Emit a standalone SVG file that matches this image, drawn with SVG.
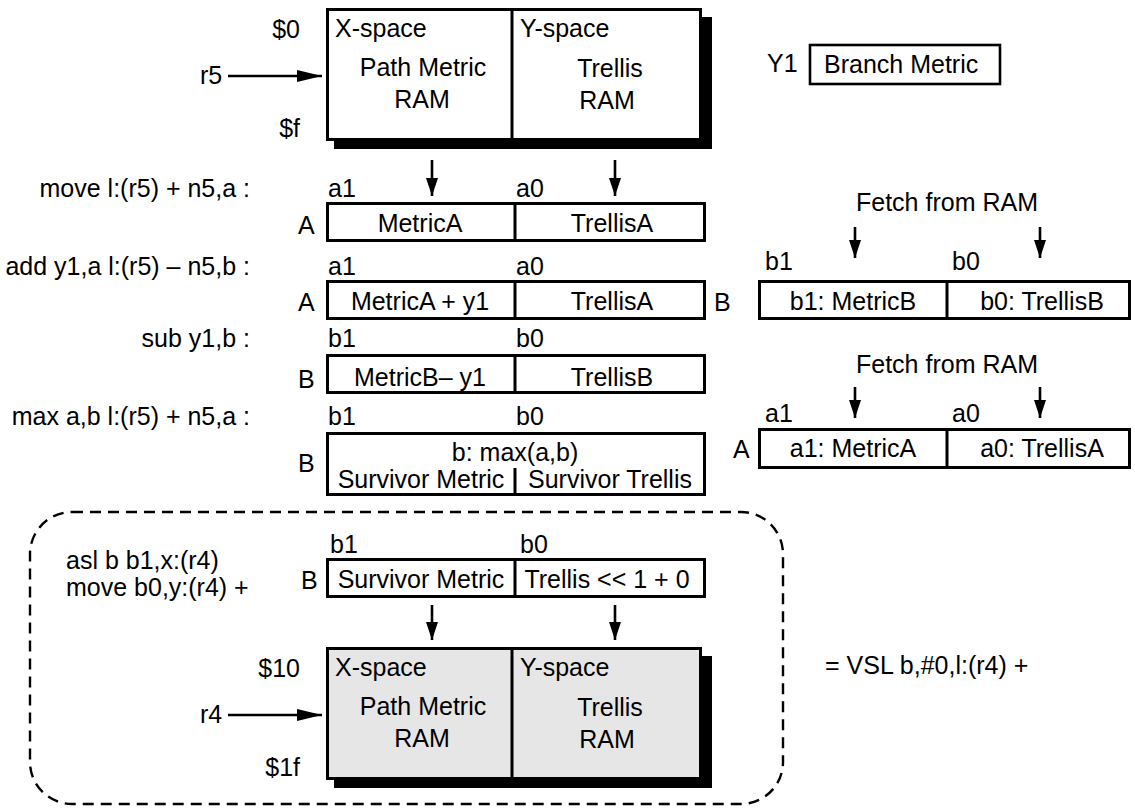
<svg xmlns="http://www.w3.org/2000/svg" width="1135" height="810" viewBox="0 0 1135 810">
<style>
text{font-family:"Liberation Sans",Arial,Helvetica,sans-serif;font-size:25px;fill:#000}
.m{text-anchor:middle}
.e{text-anchor:end}
.box{fill:#fff;stroke:#000;stroke-width:3}
.gbox{fill:#e6e6e6;stroke:#000;stroke-width:3}
.sh{fill:#000}
.ln{stroke:#000;stroke-width:3;fill:none}
.arr{stroke:#000;stroke-width:2.6;fill:none}
.dash{fill:none;stroke:#000;stroke-width:2.4;stroke-dasharray:11 7}
</style>
<defs>
<marker id="ah" markerWidth="25" markerHeight="12" refX="25" refY="6" orient="auto" markerUnits="userSpaceOnUse"><path d="M0,0 L25,6 L0,12 Z" fill="#000"/></marker>
<marker id="av" markerWidth="18" markerHeight="12" refX="18" refY="6" orient="auto" markerUnits="userSpaceOnUse"><path d="M0,0 L18,6 L0,12 Z" fill="#000"/></marker>
</defs>
<rect width="1135" height="810" fill="#fff"/>

<g id="dashed-region">
<rect class="dash" x="30" y="512" width="753" height="292" rx="42" ry="42"/>
</g>

<g id="top-ram">
<rect class="sh" x="334" y="17" width="378" height="132"/>
<rect class="box" x="327.5" y="9.5" width="373" height="130"/>
<line class="ln" x1="512" y1="9.5" x2="512" y2="139.5"/>
<text x="335" y="37">X-space</text>
<text class="m" x="423" y="76">Path Metric</text>
<text class="m" x="422" y="108">RAM</text>
<text x="520" y="37">Y-space</text>
<text class="m" x="610" y="77">Trellis</text>
<text class="m" x="607" y="109">RAM</text>
<text class="e" x="300" y="38">$0</text>
<text class="e" x="300" y="137">$f</text>
<text x="200" y="84">r5</text>
</g>

<g id="branch-metric">
<text x="767" y="72">Y1</text>
<rect class="box" x="810" y="45" width="190" height="39" style="stroke-width:2.6"/>
<text x="824" y="73">Branch Metric</text>
</g>

<g id="row1">
<text class="e" x="250" y="197">move l:(r5) + n5,a :</text>
<text x="328" y="197">a1</text>
<text x="516" y="197">a0</text>
<text x="298" y="234">A</text>
<rect class="box" x="327.5" y="203.5" width="377" height="37"/>
<line class="ln" x1="515" y1="203.5" x2="515" y2="240.5"/>
<text class="m" x="420" y="232">MetricA</text>
<text class="m" x="612" y="232">TrellisA</text>
</g>

<g id="row2">
<text class="e" x="250" y="275">add y1,a l:(r5) – n5,b :</text>
<text x="328" y="275">a1</text>
<text x="516" y="275">a0</text>
<text x="298" y="311">A</text>
<rect class="box" x="327.5" y="281.5" width="377" height="37"/>
<line class="ln" x1="515" y1="281.5" x2="515" y2="318.5"/>
<text class="m" x="420" y="310">MetricA + y1</text>
<text class="m" x="612" y="310">TrellisA</text>
</g>

<g id="fetch-b">
<text class="m" x="947" y="211">Fetch from RAM</text>
<text x="714" y="311">B</text>
<text x="765" y="270">b1</text>
<text x="952" y="270">b0</text>
<rect class="box" x="759.5" y="281.5" width="370" height="37"/>
<line class="ln" x1="947" y1="281.5" x2="947" y2="318.5"/>
<text class="m" x="853" y="310">b1: MetricB</text>
<text class="m" x="1042" y="310">b0: TrellisB</text>
</g>

<g id="row3">
<text class="e" x="250" y="347">sub y1,b :</text>
<text x="328" y="347">b1</text>
<text x="516" y="347">b0</text>
<text x="298" y="388">B</text>
<rect class="box" x="327.5" y="355.5" width="377" height="37"/>
<line class="ln" x1="515" y1="355.5" x2="515" y2="392.5"/>
<text class="m" x="420" y="386">MetricB– y1</text>
<text class="m" x="612" y="386">TrellisB</text>
</g>

<g id="fetch-a">
<text class="m" x="947" y="373">Fetch from RAM</text>
<text x="733" y="458">A</text>
<text x="765" y="422">a1</text>
<text x="952" y="422">a0</text>
<rect class="box" x="759.5" y="429.5" width="370" height="38"/>
<line class="ln" x1="947" y1="429.5" x2="947" y2="467.5"/>
<text class="m" x="853" y="457">a1: MetricA</text>
<text class="m" x="1042" y="457">a0: TrellisA</text>
</g>

<g id="row4">
<text class="e" x="250" y="425">max a,b l:(r5) + n5,a :</text>
<text x="328" y="425">b1</text>
<text x="516" y="425">b0</text>
<text x="298" y="472">B</text>
<rect class="box" x="327.5" y="433.5" width="377" height="61"/>
<line class="ln" x1="515" y1="468" x2="515" y2="494.5"/>
<text class="m" x="515" y="461">b: max(a,b)</text>
<text class="m" x="421" y="488">Survivor Metric</text>
<text class="m" x="610" y="488">Survivor Trellis</text>
</g>

<g id="row5">
<text x="66" y="569">asl b b1,x:(r4)</text>
<text x="66" y="596">move b0,y:(r4) +</text>
<text x="330" y="553">b1</text>
<text x="520" y="553">b0</text>
<text x="301" y="589">B</text>
<rect class="box" x="327.5" y="559.5" width="377" height="37"/>
<line class="ln" x1="515" y1="559.5" x2="515" y2="596.5"/>
<text class="m" x="421" y="588">Survivor Metric</text>
<text class="m" x="607" y="588">Trellis &lt;&lt; 1 + 0</text>
</g>

<g id="bottom-ram">
<rect class="sh" x="334" y="656" width="378" height="132"/>
<rect class="gbox" x="327.5" y="648.5" width="373" height="130"/>
<line class="ln" x1="512" y1="648.5" x2="512" y2="778.5"/>
<text x="335" y="676">X-space</text>
<text class="m" x="423" y="715">Path Metric</text>
<text class="m" x="422" y="747">RAM</text>
<text x="520" y="676">Y-space</text>
<text class="m" x="610" y="716">Trellis</text>
<text class="m" x="607" y="748">RAM</text>
<text class="e" x="300" y="677">$10</text>
<text class="e" x="300" y="776">$1f</text>
<text x="200" y="723">r4</text>
</g>

<g id="vsl">
<text x="825" y="674">= VSL b,#0,l:(r4) +</text>
</g>

<g id="connectors">
<line class="arr" x1="228" y1="76" x2="322" y2="76" marker-end="url(#ah)"/>
<line class="arr" x1="228" y1="715" x2="322" y2="715" marker-end="url(#ah)"/>
<line class="arr" x1="432" y1="160" x2="432" y2="196" marker-end="url(#av)"/>
<line class="arr" x1="615" y1="160" x2="615" y2="196" marker-end="url(#av)"/>
<line class="arr" x1="855" y1="227" x2="855" y2="258" marker-end="url(#av)"/>
<line class="arr" x1="1040" y1="227" x2="1040" y2="258" marker-end="url(#av)"/>
<line class="arr" x1="855" y1="387" x2="855" y2="418" marker-end="url(#av)"/>
<line class="arr" x1="1040" y1="387" x2="1040" y2="418" marker-end="url(#av)"/>
<line class="arr" x1="432" y1="605" x2="432" y2="640" marker-end="url(#av)"/>
<line class="arr" x1="615" y1="605" x2="615" y2="640" marker-end="url(#av)"/>
</g>
</svg>
